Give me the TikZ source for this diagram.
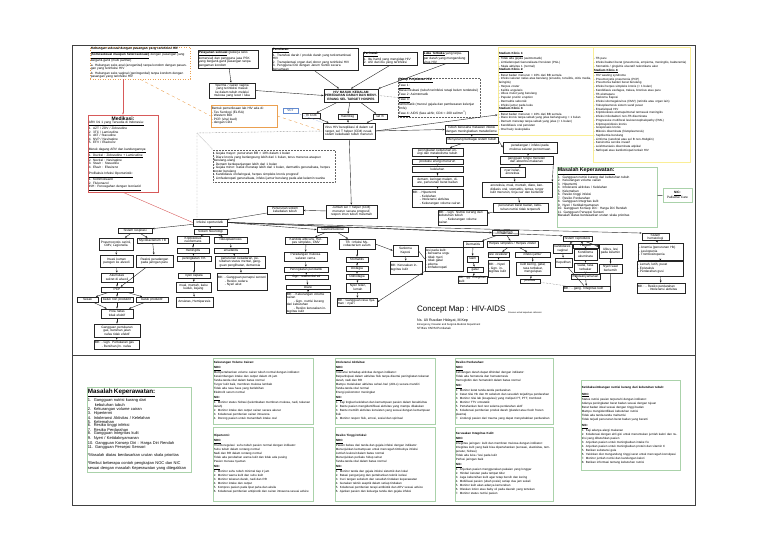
\documentclass[tikz,border=0pt]{standalone}
\usepackage{fontspec}
\setmainfont{Liberation Sans}
\usepackage{tikz}
\usetikzlibrary{arrows.meta}
\definecolor{hijau}{RGB}{170,210,170}
\definecolor{kuning}{RGB}{250,238,150}
\definecolor{oranye}{RGB}{235,160,80}
\definecolor{merah}{RGB}{215,90,90}
\definecolor{biru}{RGB}{100,140,210}
\newcommand{\fs}{\fontsize{3.2}{3.5}\selectfont}
\newcommand{\fy}{\fontsize{3}{3.75}\selectfont}
\newcommand{\fb}{\fontsize{3}{4}\selectfont}
\newcommand{\fm}{\fontsize{4}{3.5}\selectfont}
% box at top-left corner (x,y) with width w and height h
\newcommand{\bx}[7][]{%
  \pgfmathsetmacro{\bxw}{#5-1.6}%
  \node[box, #1, minimum width=#5pt, minimum height=#6pt, text width=\bxw pt]
    (#2) at ({#3+#5/2},{#4+#6/2}) {#7};}

\begin{document}
\begin{tikzpicture}[
  x=1pt, y=-1pt,
  box/.style={draw=black!85, line width=0.6pt, fill=white, inner xsep=0.7pt, inner ysep=0.4pt, align=center, font=\fs},
  lbox/.style={box, align=left},
  dotbox/.style={box, draw=black!60, line width=0.5pt, densely dotted, align=left},
  orbox/.style={box, draw=oranye, line width=0.5pt, align=left},
  ordot/.style={orbox, dotted, line width=0.7pt},
  redbox/.style={box, draw=merah, line width=0.6pt, align=left},
  ylbox/.style={box, draw=kuning, line width=1pt, align=left, font=\fy},
  grbox/.style={box, draw=hijau, line width=0.6pt, align=left, font=\fb},
  bluebox/.style={box, draw=biru, line width=0.5pt, text=biru!80!black, font=\fs\bfseries},
  flow/.style={-{Stealth[length=2.2pt,width=1.8pt]}, line width=0.4pt, black!85},
  link/.style={line width=0.4pt, black!85},
  dotlink/.style={line width=0.45pt, black!60, densely dotted},
  orlink/.style={line width=0.4pt, oranye, dashed},
  redflow/.style={flow, merah},
  frame/.style={line width=1pt, black!75},
]
\useasboundingbox (0,0) rectangle (768,543);
\draw[frame] (72,46) rectangle (695,505);
\draw[frame] (72,355) -- (695,355);

% sources of infection
\bx[ordot]{seks}{90}{48}{100}{30}{\underline{\textbf{Hubungan seksual dengan pasangan yang terinfeksi HIV}}\\\underline{\textbf{(homoseksual maupun heteroseksual)}} dengan pasangan yang berganti-ganti (multi partner)\\[1pt]a. Hubungan seks anal (anogenital) tanpa kondom dengan pasangan yang terinfeksi HIV\\[1pt]b. Hubungan seks vaginal (genitogenital) tanpa kondom dengan pasangan yang terinfeksi HIV}
\bx[box, line width=0.8pt, align=left]{pelayanan}{198}{50}{60}{18}{\underline{\textbf{Pelayanan seksual}} (pekerja seks komersial) dan pengguna jasa PSK yang berganti-ganti pasangan tanpa pengaman kondom}
\bx{cairan}{209}{83}{46}{15}{Sperma / cairan vagina yang terinfeksi masuk ke dalam tubuh melalui mukosa yang lecet / luka}
\bx[orbox]{lab}{211}{105}{66}{22}{Bentuk pemeriksaan lab HIV ada di:\\- Tes Serologi (ELISA)\\- Western Blot\\- PCR (viral load)\\- dengan CD4}
\bx[lbox]{penularan}{272}{52}{86}{15}{\underline{\textbf{Penularan:}}\\1. Transfusi darah / produk darah yang terkontaminasi HIV\\2. Transplantasi organ dari donor yang terinfeksi HIV\\3. Pengguna IDU dengan Jarum Suntik secara bersamaan}
\bx[lbox]{perinatal}{363}{52}{54}{13}{\underline{\textbf{Perinatal:}}\\1. Ibu hamil yang mengidap HIV\\2. ASI dari ibu yang terinfeksi}
\bx[lbox]{luka}{423}{52}{45}{11}{\underline{\textbf{Luka Terbuka}} yang terpapar darah yang mengandung virus HIV}

% medication
\bx[redbox]{medikasi}{88}{115}{70}{77}{\makebox[\linewidth]{\fontsize{5}{5}\selectfont\textbf{Medikasi:}}\\\underline{ARV lini 1 yang Tersedia di Indonesia:}\\1. AZT / ZDV / Zidovudine\\2. 3TC / Lamivudine\\3. d4T / Stavudine\\4. NVP / Nevirapine\\5. EFV / Efavirenz\\[3pt]\underline{Merek dagang ARV dan kandungannya:}\\\underline{1. Duviral : Zidovudine + Lamivudine}\\2. Neviral : Nevirapine\\3. Stavir : Stavudine\\4. Efavir : Efavirenz\\[3pt]\underline{Profilaksis Infeksi Oportunistik:}\\1. Kotrimoksazol\\2. Flukonazol\\\underline{INH : Pencegahan dengan Isoniazid}}

% core of the map
\bx[box, line width=0.9pt, font=\fs\bfseries]{hiv}{324}{89}{54}{13}{HIV MASUK KEDALAM PEREDARAN DARAH DAN MENYERANG SEL TARGET HOSPES}
\bx[dotbox]{fase}{398}{80}{82}{35}{\underline{\textbf{Tahap Perjalanan HIV:}}\\\underline{Fase 1:}\\Masa inkubasi (tubuh terinfeksi tetapi belum terdeteksi)\\\underline{Fase 2:} Asimtomatik\\\underline{Fase 3:}\\Simtomatik (muncul gejala dan pembesaran kelenjar limfe)\\\underline{Fase 4:} AIDS (fase akhir, CD4 < 200 sel/mm\textsuperscript{3})}
\bx{cdf}{302}{113}{18}{5}{Th CD4}
\bx{makro}{338}{114}{19}{5}{makrofag}
\bx{selb}{373}{114}{14}{5}{sel B}
\bx[bluebox]{vct}{283}{108}{15}{5}{VCT}
\bx{infeksi}{323}{123}{52}{16}{Virus HIV bereplikasi di dalam sel target, sel T helper (CD4) rusak, sistem kekebalan tubuh menurun}
\bx[dotbox]{gejala}{213}{150}{122}{32}{- Gejala mayor: penurunan BB > 10\% dalam 1 bulan\\- Diare kronis yang berlangsung lebih dari 1 bulan, terus menerus ataupun berulang-ulang\\- Demam berkepanjangan lebih dari 1 bulan\\- Gejala minor: batuk menetap lebih dari 1 bulan, dermatitis generalisata, herpes zoster berulang\\- Kandidiasis orofaringeal, herpes simpleks kronis progresif\\- Limfadenopati generalisata, infeksi jamur berulang pada alat kelamin wanita}
\bx{replikasi}{326}{205}{51}{13}{Jumlah sel T helper (CD4) menurun secara progresif, respon imun tubuh melemah}
\bx{imun}{267}{206}{36}{8}{Penurunan sistem kekebalan tubuh}
\bx{inops}{193}{219}{34}{7}{Infeksi oportunistik}

% general effects
\bx{sel1}{445}{125}{53}{9}{Tubuh berusaha melawan infeksi dengan meningkatkan metabolisme}
\bx{sel2}{446}{137}{52}{6}{Menyerang berbagai sistem tubuh}
\bx{L1}{412}{148}{51}{8}{peningkatan kebutuhan energi dan metabolisme tubuh}
\bx{L2}{412}{159}{51}{5}{produksi energi menurun}
\bx{L3}{412}{166}{51}{6}{kelelahan}
\bx{L4}{412}{176}{51}{10}{demam, keringat malam, diare, penurunan berat badan}
\bx[lbox]{L5}{412}{189}{51}{18}{MK: - Hipertermi\\\hspace*{7pt}- Kelelahan\\\hspace*{7pt}- Intoleransi aktivitas\\\hspace*{7pt}- Kekurangan volume cairan}
\bx{R1}{503}{142}{54}{11}{peradangan / infeksi pada mukosa saluran pencernaan}
\bx{R2}{500}{156}{53}{8}{gangguan fungsi menelan dan absorbsi makanan}
\bx{R3}{500}{167}{25}{10}{nyeri telan, anoreksia}
\bx{R4}{482}{182}{70}{15}{anoreksia, mual, muntah, diare, kandidiasis oral, stomatitis, lemas, turgor kulit menurun, tinja cair dan berlendir}
\bx{R5}{493}{203}{55}{9}{penurunan berat badan, kebutuhan nutrisi tidak terpenuhi}
\bx[lbox]{mkgi}{438}{210}{49}{15}{MK: - Ggn. Nutrisi kurang dari kebutuhan tubuh\\\hspace*{7pt}- Kekurangan volume cairan}

% clinical stages
\bx[ylbox]{stadA}{498}{48}{95}{87}{\underline{\textbf{Stadium Klinis 1:}}\\- Tidak ada gejala (asimtomatik)\\- Limfadenopati Generalisata Persisten (PGL)\\- Skala aktivitas 1 (normal)\\\underline{\textbf{Stadium Klinis 2:}}\\- Berat badan menurun < 10\% dari BB semula\\- Infeksi saluran nafas atas berulang (sinusitis, tonsilitis, otitis media, faringitis)\\- Herpes zoster\\- Keilitis angularis\\- Ulkus mulut yang berulang\\- Papular pruritic eruption\\- Dermatitis seboroik\\- Infeksi jamur pada kuku\\\underline{\textbf{Stadium Klinis 3:}}\\- Berat badan menurun > 10\% dari BB semula\\- Diare kronis tanpa sebab yang jelas berlangsung > 1 bulan\\- Demam menetap tanpa sebab yang jelas (> 1 bulan)\\- Kandidiasis oral persisten\\- Oral hairy leukoplakia}
\bx[ylbox]{stadB}{593}{48}{97}{114}{- TB paru\\- Infeksi bakteri berat (pneumonia, empiema, meningitis, bakteremia)\\- Stomatitis / gingivitis ulseratif nekrotikans akut\\\underline{\textbf{Stadium Klinis 4:}}\\- HIV wasting syndrome\\- Pneumocystis pneumonia (PCP)\\- Pneumonia bakteri berat berulang\\- Infeksi herpes simpleks kronis (> 1 bulan)\\- Kandidiasis esofagus, trakea, bronkus atau paru\\- TB ekstraparu\\- Sarkoma Kaposi\\- Infeksi sitomegalovirus (CMV) (retinitis atau organ lain)\\- Toksoplasmosis sistem saraf pusat\\- Ensefalopati HIV\\- Kriptokokosis ekstrapulmonal termasuk meningitis\\- Infeksi mikobakteri non-TB diseminata\\- Progressive multifocal leukoencephalopathy (PML)\\- Kriptosporidiosis kronis\\- Isosporiasis kronis\\- Mikosis diseminata (histoplasmosis)\\- Septikemia berulang\\- Limfoma (serebral atau sel B non-Hodgkin)\\- Karsinoma serviks invasif\\- Leishmaniasis diseminata atipikal\\- Nefropati atau kardiomiopati terkait HIV}

% nursing problems
\bx[grbox, font=\fs]{masalah}{557}{168}{100}{59}{\underline{\textbf{\fontsize{5.3}{6}\selectfont Masalah Keperawatan:}}\\[0.5pt]1.~~Gangguan nutrisi kurang dari kebutuhan tubuh\\2.~~Kekurangan volume cairan\\3.~~Hipertermi\\4.~~Intoleransi aktivitas / Kelelahan\\5.~~Kelemahan\\6.~~Resiko tinggi infeksi\\7.~~Resiko Perdarahan\\8.~~Gangguan Integritas kulit\\9.~~Nyeri / Ketidaknyamanan\\10. Gangguan Konsep Diri : Harga Diri Rendah\\11. Gangguan Persepsi Sensori\\*Masalah diatas berdasarkan urutan skala prioritas\\[7pt]\mbox{}}
\bx[grbox, align=center, font=\fs]{nicpal}{663}{188}{29}{14}{\underline{\textbf{NIC:}}\\Palliative Care}

% respiratory
\bx{resp}{118}{228}{34}{5}{Sistem respirasi}
\bx{r1}{99}{238}{34}{12}{Pneumocystis carinii, CMV, Legionella}
\bx{r2}{137}{238}{31}{5}{Mycobacterium TB}
\bx{r3}{100}{255}{33}{12}{Invasi kuman patogen ke alveoli}
\bx{r4}{136}{255}{37}{12}{Reaksi peradangan pada jaringan paru}
\bx{r5}{101}{273}{32}{9}{Akumulasi sekret di alveoli}
\bx{r6}{101}{287}{32}{5}{PCP}
\bx{r7}{77}{297}{21}{5}{Sesak}
\bx{r8}{101}{297}{32}{5}{batuk non produktif}
\bx{r9}{136}{297}{32}{5}{batuk produktif}
\bx{r10}{101}{309}{32}{9}{Pola nafas tidak efektif}
\bx{r11}{94}{324}{46}{13}{Gangguan pertukaran gas, bersihan jalan nafas tidak efektif}
\bx[lbox]{r12}{94}{340}{45}{9}{MK: - Ggn. Pertukaran gas\\\hspace*{7pt}- Bersihan jln. nafas}

% neurology
\bx{neuro}{194}{229}{33}{5}{Sistem Neurologi}
\bx{n1}{177}{237}{32}{6}{Kriptokokus neoformans}
\bx{n2}{214}{237}{33}{6}{Toksoplasmosis}
\bx{n3}{177}{248}{32}{5}{meningitis}
\bx{n4}{214}{248}{34}{5}{ensefalitis}
\bx{n5}{177}{256}{34}{5}{peningkatan TIK}
\bx{n6}{215}{256}{50}{12}{penurunan kesadaran, perubahan status mental, gangguan penglihatan, demensia}
\bx{n7}{178}{273}{32}{5}{nyeri kepala}
\bx[lbox]{n8}{217}{273}{50}{17}{MK: - Gangguan persepsi sensori\\\hspace*{7pt}- Resiko cedera\\\hspace*{7pt}- Nyeri akut}
\bx{n9}{176}{282}{35}{10}{mual, muntah, kaku kuduk, kejang}
\bx{n10}{176}{297}{37}{10}{Ansietas, Hemiparesis}

% gastrointestinal
\bx{gastro}{317}{227}{31}{5}{Gastrointestinal}
\bx{g1}{285}{238}{42}{6}{Kandida albicans, Herpes simpleks, CMV}
\bx{g2}{339}{239}{36}{10}{TB : Infeksi Mycobacterium avium}
\bx{g3}{284}{252}{43}{9}{Peradangan mukosa saluran cerna}
\bx{g4}{284}{267}{44}{5}{Peningkatan peristaltik}
\bx{g5}{285}{275}{43}{4}{Ggn. reabsorbsi air}
\bx{g6}{286}{285}{44}{4}{Diare}
\bx[lbox]{g7}{286}{294}{44}{18}{MK: - Kekurangan volume cairan\\\hspace*{7pt}- Ggn. nutrisi kurang dari kebutuhan\\\hspace*{7pt}- Resiko kerusakan integritas kulit}
\bx{m1}{346}{257}{22}{5}{Stomatitis}
\bx{m2}{346}{266}{22}{5}{Disfagia}
\bx{m3}{346}{274}{22}{5}{Odinofagia}
\bx{m4}{346}{283}{24}{9}{Nyeri telan, lemah}
\bx[lbox]{m5}{337}{298}{40}{8}{MK : Gangguan rasa nyaman : nyeri}
\bx{ks1}{393}{245}{25}{11}{Sarkoma Kaposi}
\bx[lbox]{ks2}{390}{261}{32}{13}{MK: Kerusakan integritas kulit}
\bx[lbox]{ks3}{425}{247}{38}{24}{lesi pada kulit:\\- berwarna ungu\\- tidak nyeri\\- tidak gatal\\- edema\\- limfadenopati}

% integument
\bx{integ}{492}{230}{26}{5}{Integumen}
\bx{i1}{463}{241}{20}{6}{Dermatitis}
\bx{i2}{487}{241}{51}{6}{Herpes simpleks / Herpes zoster}
\bx{i3}{467}{256}{11}{6}{ruam}
\bx{i4}{488}{252}{21}{5}{lesi vesikuler}
\bx{i5}{515}{252}{35}{5}{infeksi jamur}
\bx{i6}{467}{267}{16}{5}{gatal}
\bx[lbox]{i7}{488}{260}{21}{17}{MK: - Nyeri\\- Ggn. integritas kulit}
\bx{i8}{516}{262}{34}{13}{kulit kering, gatal, rasa terbakar, mengelupas}
\bx{i9}{520}{279}{20}{4}{pruritus}
\bx[lbox]{mki}{458}{277}{29}{5}{MK : gg. integritas kulit}

% reproduction
\bx{repro}{563}{236}{29}{5}{Sistem reproduksi}
\bx{p1}{553}{244}{19}{9}{kandidiasis vaginal}
\bx{p2}{573}{244}{25}{4}{Herpes}
\bx{p2b}{574}{249}{23}{11}{Kondiloma akuminata}
\bx{p3}{599}{244}{23}{14}{Ulkus, lesi pada kelamin}
\bx{p4}{555}{258}{17}{9}{Keputihan}
\bx{p5}{574}{263}{23}{9}{Gatal, rasa terbakar}
\bx{p6}{599}{264}{23}{9}{Nyeri saat berkemih}
\bx{p7}{571}{274}{29}{5}{Ketidaknyamanan}
\bx[lbox]{mkp}{563}{286}{47}{5}{MK : - gang. Integritas kulit}

% hematology
\bx{hema}{642}{235}{27}{4}{Sistem hematologi}
\bx[lbox]{h1}{638}{243}{45}{17}{- Anemia (penurunan Hb)\\- Leukopenia\\- Trombositopenia}
\bx[lbox]{h2}{637}{261}{46}{15}{- Lemah, letih, pucat\\- Epistaksis\\- Perdarahan gusi}
\bx[lbox]{h3}{637}{283}{48}{10}{MK : - Resiko perdarahan\\\hspace*{10pt}- Intoleransi aktivitas}

% title
\node[anchor=north west, inner sep=0, font=\fontsize{7.9}{9}\selectfont] (judul) at (417,306) {Concept Map : HIV-AIDS};
\node[anchor=base west, inner sep=0, font=\fontsize{2.2}{2.5}\selectfont] (ket) at (508,313) {Disusun untuk keperluan referensi};
\node[anchor=north west, inner sep=0, font=\fontsize{3.6}{4}\selectfont] (penulis) at (417,319) {Ns. Uli Rusdian Hidayat, M.Kep};
\node[anchor=north west, inner sep=0, font=\fontsize{2.6}{3}\selectfont] (dept) at (417,323.5) {Emergency, Disaster and Surgical-Medical Department};
\node[anchor=north west, inner sep=0, font=\fontsize{3}{3.5}\selectfont] (inst) at (417,327.5) {STIKes YARSI Pontianak};

% flow in the upper map
\draw[flow] (pelayanan) -- (cairan);
\draw[flow] (cairan.east) -- (hiv.west);
\draw[flow] (penularan.south) -- (hiv.150);
\draw[flow] (perinatal.south) -- (hiv.north);
\draw[flow] (luka.south) -- (hiv.north east);
\draw[dotlink] (hiv.east) -- (fase.west);
\draw[flow] (hiv) -- (cdf);
\draw[flow] (hiv) -- (makro);
\draw[flow] (hiv) -- (selb);
\draw[flow] (cdf) -- (infeksi);
\draw[flow] (makro) -- (infeksi);
\draw[flow] (selb) -- (infeksi);
\draw[line width=0.4pt, biru, densely dotted] (vct) -- (infeksi.north west);
\draw[orlink] (lab.east) -- (infeksi.west);
\draw[orlink] (seks.south) -- (lab.west);
\draw[redflow] (seks.south -| medikasi.north) -- (medikasi.north);
\draw[line width=0.4pt, merah] (medikasi.south) -- (inops.west);
\coordinate (sudut) at (197,133);
\draw[dotlink] (infeksi.west) -- (sudut) -- (sudut |- inops.north);
\draw[dotlink] (sudut) -- (gejala.north west);
\draw[flow] (infeksi) -- (replikasi);
\draw[flow] (replikasi) -- (imun);
\draw[flow] (imun) -- (inops);
\draw[flow] (infeksi.east) -- (sel1.west);
\draw[flow] (infeksi.east) -- (stadA.206);
\draw[flow] (sel1) -- (sel2);
\draw[flow] (sel2) -- (L1);
\draw[flow] (sel2.east) -- (R1.west);
\draw[flow] (L1) -- (L2);
\draw[flow] (L2) -- (L3);
\draw[flow] (L3) -- (L4);
\draw[flow] (L4) -- (L5);
\draw[flow] (R1) -- (R2);
\draw[flow] (R2) -- (R3);
\draw[flow] (R2.south east) -- (R4.north east);
\draw[flow] (R3) -- (R4);
\draw[flow] (R4) -- (R5);
\draw[flow] (R5) -- (mkgi);
\draw[link] (masalah) -- (nicpal);

% opportunistic infections per system
\draw[flow] (inops) -- (resp);
\draw[flow] (inops) -- (neuro);
\draw[flow] (inops.east) -- (gastro.west);
\draw[flow] (inops.east) -- (integ.west);
\draw[flow] (inops.east) -- (repro.north west);
\draw[flow] (inops.east) -- (hema.north west);
% respiratory
\draw[flow] (resp) -- (r1);
\draw[flow] (resp) -- (r2);
\draw[flow] (r1) -- (r3);
\draw[flow] (r2) -- (r4);
\draw[flow] (r3) -- (r5);
\draw[flow] (r4) -- (r6);
\draw[flow] (r5) -- (r6);
\draw[flow] (r6) -- (r7);
\draw[flow] (r6) -- (r8);
\draw[flow] (r6) -- (r9);
\draw[flow] (r7) -- (r10);
\draw[flow] (r8) -- (r10);
\draw[flow] (r9) -- (r10);
\draw[flow] (r10) -- (r11);
\draw[flow] (r11) -- (r12);
% neurology
\draw[flow] (neuro) -- (n1);
\draw[flow] (neuro) -- (n2);
\draw[flow] (n1) -- (n3);
\draw[flow] (n2) -- (n4);
\draw[flow] (n3) -- (n5);
\draw[flow] (n4) -- (n6);
\draw[flow] (n5) -- (n7);
\draw[flow] (n6) -- (n8);
\draw[flow] (n7) -- (n9);
\draw[flow] (n9) -- (n10);
% gastrointestinal
\draw[flow] (gastro) -- (g1);
\draw[flow] (gastro) -- (g2);
\draw[flow] (g1) -- (g3);
\draw[flow] (g3) -- (g4);
\draw[flow] (g4) -- (g5);
\draw[flow] (g5) -- (g6);
\draw[flow] (g6) -- (g7);
\draw[flow] (g2) -- (m1);
\draw[flow] (m1) -- (m2);
\draw[flow] (m2) -- (m3);
\draw[flow] (m3) -- (m4);
\draw[flow] (m4) -- (m5);
\draw[flow] (g2.east) -- (ks1.west);
\draw[flow] (ks1) -- (ks2);
\draw[link] (ks1.east) -- (ks3.west);
\draw[flow] (ks3.south west) -- (m5.east);
% integument
\draw[flow] (integ) -- (i1);
\draw[flow] (integ) -- (i2);
\draw[flow] (i1) -- (i3);
\draw[flow] (i3) -- (i6);
\draw[flow] (i6) -- (mki);
\draw[flow] (i2) -- (i4);
\draw[flow] (i2) -- (i5);
\draw[flow] (i4) -- (i7);
\draw[flow] (i5) -- (i8);
\draw[flow] (i8) -- (i9);
\draw[dotlink] (i9) -- (mkp);
% reproduction
\draw[flow] (repro) -- (p1);
\draw[flow] (repro) -- (p2);
\draw[flow] (repro) -- (p3);
\draw[flow] (p1) -- (p4);
\draw[flow] (p2) -- (p2b);
\draw[flow] (p2b) -- (p5);
\draw[flow] (p3) -- (p6);
\draw[flow] (p5) -- (p7);
\draw[link] (p4) -- (mkp);
\draw[flow] (p7) -- (mkp);
\draw[link] (p6) -- (mkp.east);
% hematology
\draw[flow] (hema) -- (h1);
\draw[flow] (h1) -- (h2);
\draw[flow] (h2) -- (h3);

% NOC and NIC examples
\bx[grbox, font=\fm]{masalah2}{87}{387}{104}{85}{\underline{\textbf{\fontsize{6.3}{7}\selectfont Masalah Keperawatan:}}\\[1pt]1.~~Gangguan nutrisi kurang dari\\\hspace*{7pt}kebutuhan tubuh\\2.~~Kekurangan volume cairan\\3.~~Hipertermi\\4.~~Intoleransi Aktivitas / Kelelahan\\5.~~Kelemahan\\6.~~Resiko tinggi infeksi\\7.~~Resiko Perdarahan\\8.~~Gangguan Integritas kulit\\9.~~Nyeri / Ketidaknyamanan\\10. Gangguan Konsep Diri : Harga Diri Rendah\\11. Gangguan Persepsi Sensori\\[3pt]*Masalah diatas berdasarkan urutan skala prioritas\\[3pt]*Berikut beberapa contoh pengkajian NOC dan NIC sesuai dengan masalah Keperawatan yang ditegakkan}
\bx[grbox]{kvc}{213}{358}{100}{66}{\textbf{Kekurangan Volume Cairan:}\\[1pt]\underline{\textbf{NOC:}}\\Mempertahankan volume cairan tubuh normal dengan indikator:\\Keseimbangan intake dan output dalam 24 jam\\Tanda-tanda vital dalam batas normal\\Turgor kulit baik, membran mukosa lembab\\Tidak ada rasa haus yang berlebihan\\Elektrolit serum normal\\[1pt]\underline{\textbf{NIC:}}\\1. Monitor status hidrasi (kelembaban membran mukosa, nadi, tekanan darah)\\2. Monitor intake dan output cairan secara akurat\\3. Kolaborasi pemberian cairan intravena\\4. Dorong pasien untuk menambah intake oral}
\bx[grbox]{hiper}{213}{427}{100}{74}{\textbf{Hipertermi:}\\[1pt]\underline{\textbf{NOC:}}\\Thermoregulasi: suhu tubuh pasien normal dengan indikator:\\Suhu tubuh dalam rentang normal\\Nadi dan RR dalam rentang normal\\Tidak ada perubahan warna kulit dan tidak ada pusing\\Pasien merasa nyaman\\[1pt]\underline{\textbf{NIC:}}\\1. Monitor suhu tubuh minimal tiap 2 jam\\2. Monitor warna kulit dan suhu kulit\\3. Monitor tekanan darah, nadi dan RR\\4. Monitor intake dan output\\5. Kompres pasien pada lipat paha dan aksila\\6. Kolaborasi pemberian antipiretik dan cairan intravena sesuai advice}
\bx[grbox]{intol}{335}{358}{100}{66}{\textbf{Intoleransi Aktivitas:}\\[1pt]\underline{\textbf{NOC:}}\\Toleransi terhadap aktivitas dengan indikator:\\Berpartisipasi dalam aktivitas fisik tanpa disertai peningkatan tekanan darah, nadi dan RR\\Mampu melakukan aktivitas sehari-hari (ADLs) secara mandiri\\Tanda-tanda vital normal\\Energi psikomotor meningkat\\[1pt]\underline{\textbf{NIC:}}\\1. Kaji tingkat kelelahan dan kemampuan pasien dalam beraktivitas\\2. Bantu pasien mengidentifikasi aktivitas yang mampu dilakukan\\3. Bantu memilih aktivitas konsisten yang sesuai dengan kemampuan fisik\\4. Monitor respon fisik, emosi, sosial dan spiritual}
\bx[grbox]{rti}{335}{427}{100}{74}{\textbf{Resiko Tinggi Infeksi:}\\[1pt]\underline{\textbf{NOC:}}\\Pasien bebas dari tanda dan gejala infeksi dengan indikator:\\Menunjukkan kemampuan untuk mencegah timbulnya infeksi\\Jumlah leukosit dalam batas normal\\Menunjukkan perilaku hidup sehat\\Tanda-tanda vital dalam batas normal\\[1pt]\underline{\textbf{NIC:}}\\1. Monitor tanda dan gejala infeksi sistemik dan lokal\\2. Batasi pengunjung dan pertahankan teknik isolasi\\3. Cuci tangan sebelum dan sesudah tindakan keperawatan\\4. Gunakan teknik aseptik dalam setiap tindakan\\5. Kolaborasi pemberian terapi antibiotik dan ARV sesuai advice\\6. Ajarkan pasien dan keluarga tanda dan gejala infeksi}
\bx[grbox]{rp}{455}{358}{98}{66}{\textbf{Resiko Perdarahan:}\\[1pt]\underline{\textbf{NOC:}}\\Kehilangan darah dapat dihindari dengan indikator:\\Tidak ada hematuria dan hematemesis\\Hemoglobin dan hematokrit dalam batas normal\\[1pt]\underline{\textbf{NIC:}}\\1. Monitor ketat tanda-tanda perdarahan\\2. Catat nilai Hb dan Ht sebelum dan sesudah terjadinya perdarahan\\3. Monitor nilai lab (koagulasi) yang meliputi PT, PTT, trombosit\\4. Monitor TTV ortostatik\\5. Pertahankan bed rest selama perdarahan aktif\\6. Kolaborasi pemberian produk darah (platelet atau fresh frozen plasma)\\7. Lindungi pasien dari trauma yang dapat menyebabkan perdarahan}
\bx[grbox]{kik}{455}{427}{98}{74}{\textbf{Kerusakan Integritas Kulit:}\\[1pt]\underline{\textbf{NOC:}}\\Integritas jaringan: kulit dan membran mukosa dengan indikator:\\Integritas kulit yang baik bisa dipertahankan (sensasi, elastisitas, temperatur, hidrasi)\\Tidak ada luka / lesi pada kulit\\Perfusi jaringan baik\\[1pt]\underline{\textbf{NIC:}}\\1. Anjurkan pasien menggunakan pakaian yang longgar\\2. Hindari kerutan pada tempat tidur\\3. Jaga kebersihan kulit agar tetap bersih dan kering\\4. Mobilisasi pasien (ubah posisi) setiap dua jam sekali\\5. Monitor kulit akan adanya kemerahan\\6. Oleskan lotion atau baby oil pada daerah yang tertekan\\7. Monitor status nutrisi pasien}
\bx[grbox]{nutrisi}{581}{380}{99}{90}{\textbf{Ketidakseimbangan nutrisi kurang dari kebutuhan tubuh:}\\[3pt]\underline{\textbf{NOC:}}\\Status nutrisi pasien terpenuhi dengan indikator:\\Adanya peningkatan berat badan sesuai dengan tujuan\\Berat badan ideal sesuai dengan tinggi badan\\Mampu mengidentifikasi kebutuhan nutrisi\\Tidak ada tanda-tanda malnutrisi\\Tidak terjadi penurunan berat badan yang berarti\\[2pt]\underline{\textbf{NIC:}}\\1. Kaji adanya alergi makanan\\2. Kolaborasi dengan ahli gizi untuk menentukan jumlah kalori dan nutrisi yang dibutuhkan pasien\\3. Anjurkan pasien untuk meningkatkan intake Fe\\4. Anjurkan pasien untuk meningkatkan protein dan vitamin C\\5. Berikan substansi gula\\6. Yakinkan diet mengandung tinggi serat untuk mencegah konstipasi\\7. Monitor jumlah nutrisi dan kandungan kalori\\8. Berikan informasi tentang kebutuhan nutrisi}
\end{tikzpicture}
\end{document}
